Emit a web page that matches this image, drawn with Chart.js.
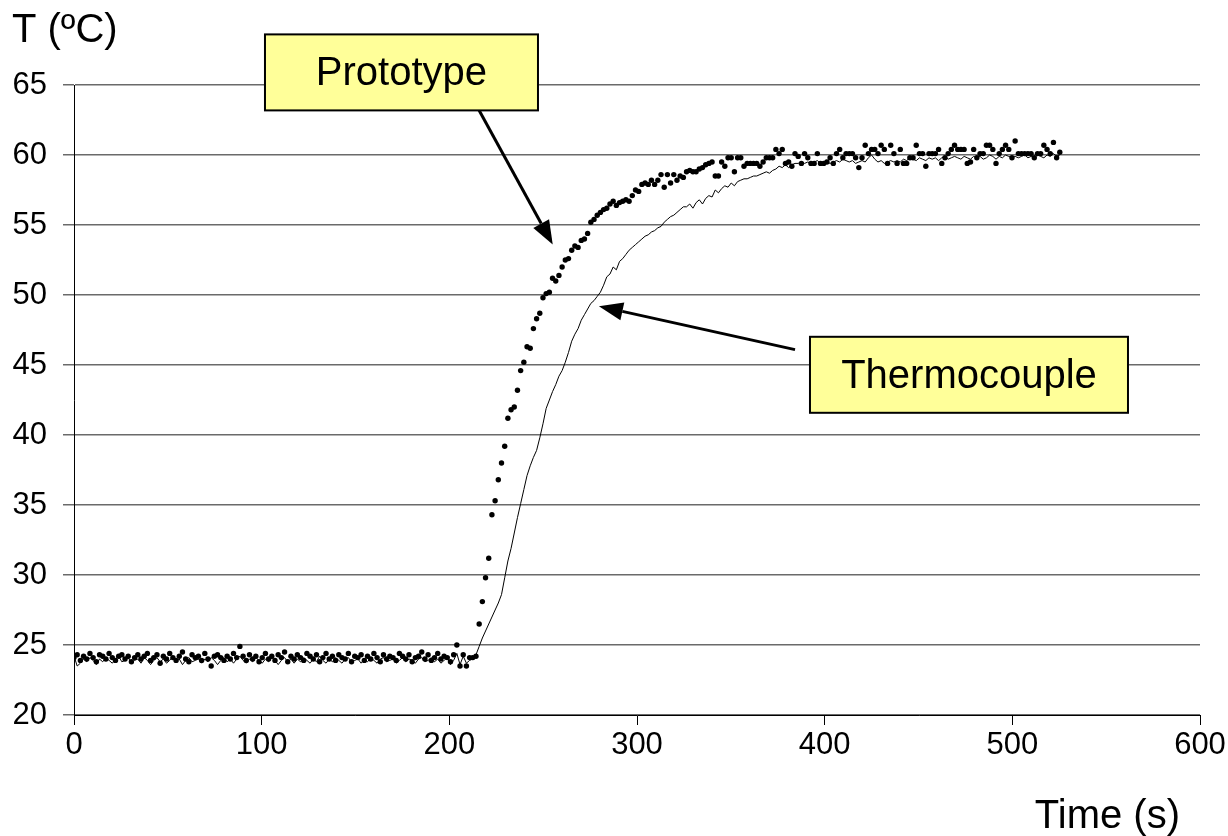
<!DOCTYPE html>
<html>
<head>
<meta charset="utf-8">
<script src="https://cdn.jsdelivr.net/npm/chart.js@4.4.1/dist/chart.umd.min.js"></script>
<style>
  html, body { margin: 0; padding: 0; background: #fff; }
  #wrap { width: 1228px; height: 836px; position: relative; }
</style>
</head>
<body>
<div id="wrap"><canvas id="chart"></canvas></div>
<script>
// sampling interval of the logger, seconds
const SAMPLE_STEP = 1.7;

// prototype sensor readings (ºC), one per sample
const PROTOTYPE = [
  24.1, 24.3, 23.9, 24.2, 24.0, 24.4, 24.1, 23.8, 24.3, 24.2,
  24.0, 24.4, 24.1, 23.9, 24.2, 24.3, 24.0, 24.2, 23.8, 24.1,
  24.3, 24.0, 24.2, 24.4, 23.9, 24.1, 24.3, 23.7, 24.2, 24.0,
  24.4, 24.1, 23.9, 24.2, 24.5, 24.0, 23.8, 24.3, 24.1, 24.2,
  23.9, 24.4, 24.0, 23.5, 24.2, 24.3, 24.1, 23.9, 24.2, 24.0,
  24.4, 24.1, 24.9, 24.2, 23.9, 24.3, 24.0, 24.2, 23.8, 24.1,
  24.4, 24.0, 24.2, 23.9, 24.3, 24.1, 24.5, 23.8, 24.2, 24.0,
  24.3, 24.1, 23.9, 24.4, 24.2, 24.0, 24.3, 23.8, 24.1, 24.4,
  24.0, 24.2, 23.9, 24.3, 24.1, 24.0, 24.4, 23.8, 24.2, 24.1,
  24.3, 23.9, 24.2, 24.0, 24.4, 24.1, 23.8, 24.3, 24.0, 24.2,
  24.1, 23.9, 24.4, 24.2, 24.0, 24.3, 23.8, 24.1, 24.2, 24.5,
  24.0, 24.3, 23.9, 24.1, 24.4, 24.0, 24.2, 24.1, 23.8, 24.3,
  25.0, 23.5, 24.3, 23.5, 24.1,
  // heating step
  24.1, 24.2, 26.5, 28.1, 29.8, 31.2, 34.3, 35.3, 36.8, 38.0,
  39.2, 41.2, 41.8, 42.0, 43.2, 44.6, 45.2, 46.3, 46.2, 47.6,
  48.3, 48.7, 49.8, 50.1, 50.2, 51.2, 51.0, 51.4, 52.0, 52.5,
  52.6, 53.2, 53.5, 53.4, 53.9, 54.0, 54.4, 55.2, 55.4, 55.7,
  55.9, 56.1, 56.2, 56.5, 56.7, 56.4, 56.6, 56.7, 56.8, 56.7,
  57.1, 57.5, 57.4, 57.9, 58.0, 57.9, 58.2, 57.9, 58.2, 58.6,
  57.7, 58.6, 58.0, 58.6, 58.2, 58.5, 58.4, 58.8, 58.9, 58.8,
  58.8, 59.0, 59.1, 59.3, 59.4, 59.5, 58.5, 58.5,
  59.5, 59.2, 59.8, 59.8, 58.8, 59.8, 59.8, 59.2, 59.4, 59.4,
  59.4, 59.4, 59.2, 59.5, 59.8, 59.8, 59.8, 60.4, 60.1, 60.4,
  59.4, 59.5, 59.2, 60.1, 59.9, 59.4, 60.1, 59.8, 59.4, 59.4,
  60.1, 59.4, 59.4,
  // settled
  59.5, 59.8, 59.4, 60.1, 60.4, 59.8, 60.1, 60.1, 60.1, 59.8,
  59.1, 59.8, 60.7, 60.1, 60.4, 60.4, 60.1, 60.7, 60.4, 59.4,
  60.7, 60.1, 59.4, 60.4, 59.4, 59.4, 59.8, 59.8, 60.7, 60.1,
  60.1, 59.2, 60.1, 60.1, 60.1, 60.4, 59.4, 59.8, 60.1, 60.4,
  60.7, 60.4, 60.4, 60.4, 59.4, 59.5, 60.4, 59.8, 60.1, 60.1,
  60.7, 60.7, 60.4, 59.4, 60.1, 60.4, 60.7, 60.4, 59.8, 61.0,
  60.1, 60.1, 60.1, 60.1, 60.1, 59.8, 60.1, 60.1, 60.7, 60.4,
  60.1, 60.9, 59.8, 60.2
];

// reference thermocouple readings (ºC), same sampling
const THERMOCOUPLE = [
  24.2, 23.5, 23.7, 24.0, 23.8, 24.1, 23.9, 23.6, 24.0, 23.8,
  24.1, 23.9, 23.7, 24.0, 24.2, 23.8, 23.9, 24.1, 23.7, 23.9,
  24.0, 23.7, 24.1, 23.9, 23.6, 23.9, 24.1, 23.8, 24.0, 23.7,
  23.9, 24.2, 23.8, 24.0, 23.6, 23.9, 24.1, 23.8, 23.9, 24.0,
  23.7, 24.0, 23.8, 24.1, 23.9, 23.6, 23.9, 24.1, 23.8, 24.0,
  23.7, 24.0, 24.2, 23.9, 23.7, 24.0, 23.8, 24.1, 23.9, 23.7,
  24.0, 23.8, 24.1, 23.9, 23.6, 23.9, 24.1, 23.8, 24.0, 23.7,
  24.0, 23.8, 24.1, 23.9, 23.7, 24.0, 23.8, 24.2, 23.9, 23.7,
  24.0, 23.8, 24.1, 23.9, 23.7, 24.0, 24.1, 23.8, 23.9, 24.0,
  23.7, 24.0, 23.8, 24.1, 23.9, 23.7, 24.0, 24.1, 23.8, 23.9,
  24.0, 23.7, 23.9, 24.1, 23.8, 24.0, 23.9, 23.7, 24.0, 24.1,
  23.8, 23.9, 24.1, 23.8, 24.0, 23.7, 23.9, 24.1, 23.6, 23.9,
  24.4, 23.6, 24.2, 23.7, 23.9,
  // heating step
  24.0, 24.3, 24.9, 25.5, 26.0, 26.5, 27.0, 27.5, 28.0, 28.6,
  29.8, 31.0, 31.9, 33.0, 34.1, 35.1, 36.1, 37.1, 37.8, 38.4,
  38.9, 39.8, 40.8, 41.9, 42.5, 43.1, 43.6, 44.2, 44.6, 45.2,
  45.9, 46.7, 47.2, 47.6, 48.2, 48.6, 49.0, 49.4, 49.6, 49.9,
  50.2, 50.7, 51.3, 51.5, 52.0, 51.8, 52.4, 52.6, 52.9, 53.2,
  53.4, 53.6, 53.8, 54.0, 54.2, 54.3, 54.5, 54.6, 54.8, 54.9,
  55.2, 55.4, 55.6, 55.7, 55.9, 56.1, 56.3, 56.3, 56.5, 56.2,
  56.6, 56.8, 56.5, 56.9, 57.1, 57.0, 57.5, 57.3,
  57.6, 57.8, 57.7, 58.0, 57.8, 58.1, 58.2, 58.3, 58.3, 58.4,
  58.5, 58.5, 58.6, 58.7, 58.8, 58.7, 58.9, 59.0, 59.2, 59.1,
  59.3, 59.1, 59.3, 59.4, 59.4, 59.5, 59.4, 59.5, 59.4, 59.5,
  59.6, 59.4, 59.5,
  // settled
  59.5, 59.4, 59.5, 59.6, 59.5, 59.7, 59.6, 59.5, 59.6, 59.4,
  59.5, 59.6, 59.5, 59.8, 60.0, 59.7, 59.5, 59.6, 59.4, 59.5,
  59.6, 59.5, 59.6, 59.5, 59.7, 59.6, 59.8, 59.7, 59.6, 59.8,
  59.7, 59.6, 59.8, 59.7, 59.8, 59.6, 59.8, 59.9, 59.7, 59.8,
  59.9, 59.8, 59.7, 59.9, 59.8, 59.7, 59.9, 59.8, 59.9, 59.7,
  59.8, 60.0, 59.9, 59.7, 59.9, 59.8, 60.0, 59.9, 59.8, 59.9,
  59.8, 59.9, 60.0, 59.8, 59.9, 59.8, 60.0, 59.9, 59.8, 60.0,
  59.9, 60.1, 59.9, 60.0
];

// sample times (s)
const TIME = PROTOTYPE.map((_, i) => +(i * SAMPLE_STEP).toFixed(1));

// axis ranges / tick steps
const X_RANGE = [0, 600], X_STEP = 100;
const Y_RANGE = [20, 65], Y_STEP = 5;

// callouts: label, box centre and arrow (tail -> tip) in data units
const CALLOUTS = [
  { text: 'Prototype', at: [174.5, 65.9], w: 273, h: 76, tail: [215.4, 63.3], tip: [255.1, 53.6] },
  { text: 'Thermocouple', at: [476.9, 44.3], w: 318, h: 76, tail: [384.2, 46.1], tip: [279.7, 49.2] }
];

const FONT = "'Liberation Sans', Arial, sans-serif";

function toPoints(ys) {
  return ys.map((y, i) => ({ x: TIME[i], y }));
}

function drawArrow(ctx, x1, y1, x2, y2) {
  const ang = Math.atan2(y2 - y1, x2 - x1);
  const headLen = 24, headW = 9;
  const bx = x2 - headLen * Math.cos(ang), by = y2 - headLen * Math.sin(ang);
  ctx.beginPath();
  ctx.moveTo(x1, y1);
  ctx.lineTo(bx, by);
  ctx.lineWidth = 3;
  ctx.strokeStyle = '#000';
  ctx.stroke();
  ctx.beginPath();
  ctx.moveTo(x2, y2);
  ctx.lineTo(bx + headW * Math.sin(ang), by - headW * Math.cos(ang));
  ctx.lineTo(bx - headW * Math.sin(ang), by + headW * Math.cos(ang));
  ctx.closePath();
  ctx.fillStyle = '#000';
  ctx.fill();
}

// axis titles + yellow callout boxes
const overlay = {
  id: 'overlay',
  afterDraw(chart) {
    const { ctx, scales: { x, y }, chartArea } = chart;
    ctx.save();
    ctx.fillStyle = '#000';
    ctx.font = `40px ${FONT}`;
    ctx.textBaseline = 'alphabetic';
    ctx.textAlign = 'left';
    ctx.fillText('T (ºC)', 12, 42);
    ctx.textAlign = 'right';
    ctx.fillText('Time (s)', chartArea.right - 20, 828);

    CALLOUTS.forEach(c => {
      drawArrow(ctx, x.getPixelForValue(c.tail[0]), y.getPixelForValue(c.tail[1]),
                x.getPixelForValue(c.tip[0]), y.getPixelForValue(c.tip[1]));
      const cx = x.getPixelForValue(c.at[0]), cy = y.getPixelForValue(c.at[1]);
      ctx.fillStyle = '#ffff99';
      ctx.fillRect(cx - c.w / 2, cy - c.h / 2, c.w, c.h);
      ctx.lineWidth = 2;
      ctx.strokeStyle = '#000';
      ctx.strokeRect(cx - c.w / 2, cy - c.h / 2, c.w, c.h);
      ctx.fillStyle = '#000';
      ctx.font = `40px ${FONT}`;
      ctx.textAlign = 'center';
      ctx.textBaseline = 'middle';
      ctx.fillText(c.text, cx, cy + 2);
    });
    ctx.restore();
  }
};

new Chart(document.getElementById('chart'), {
  type: 'scatter',
  data: {
    datasets: [
      {
        label: 'Thermocouple',
        data: toPoints(THERMOCOUPLE),
        showLine: true,
        borderColor: '#000',
        borderWidth: 1,
        pointRadius: 0,
        tension: 0
      },
      {
        label: 'Prototype',
        data: toPoints(PROTOTYPE),
        showLine: false,
        pointRadius: 2.7,
        pointBackgroundColor: '#000',
        pointBorderWidth: 0
      }
    ]
  },
  options: {
    responsive: true,
    maintainAspectRatio: false,
    animation: false,
    layout: { padding: { top: 85, right: 28, left: 0, bottom: 0 } },
    plugins: { legend: { display: false }, tooltip: { enabled: false } },
    scales: {
      x: {
        type: 'linear',
        min: X_RANGE[0], max: X_RANGE[1],
        afterFit(scale) { scale.height = 121; },
        border: { color: '#000', width: 1 },
        grid: { drawOnChartArea: false, drawTicks: true, tickLength: 10, color: '#000' },
        ticks: { stepSize: X_STEP, padding: 2, color: '#000', font: { family: FONT, size: 31 } }
      },
      y: {
        min: Y_RANGE[0], max: Y_RANGE[1],
        afterFit(scale) { scale.width = 74; },
        border: { color: '#000', width: 1 },
        grid: { color: '#6a6a6a', lineWidth: 1.5, tickLength: 11 },
        ticks: { stepSize: Y_STEP, padding: 16, color: '#000', font: { family: FONT, size: 31 } }
      }
    }
  },
  plugins: [overlay]
});
</script>
</body>
</html>
